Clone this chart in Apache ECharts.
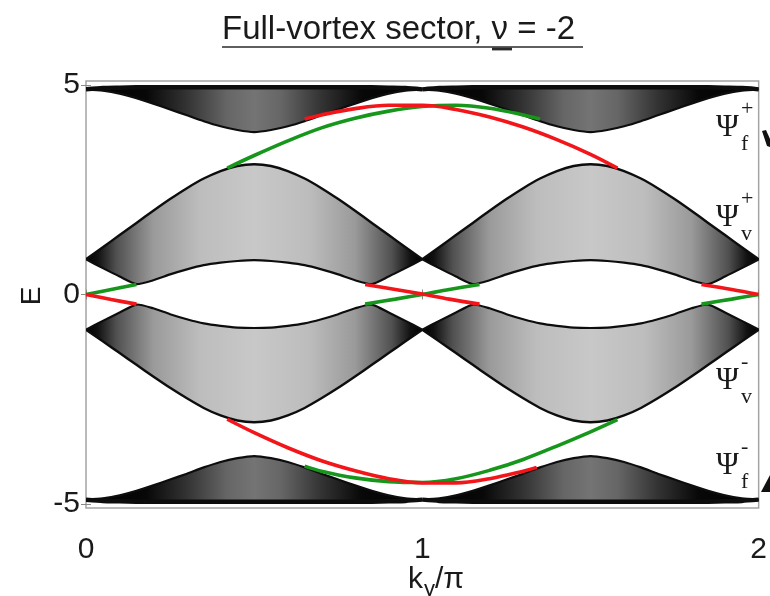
<!DOCTYPE html>
<html>
<head>
<meta charset="utf-8">
<script src="https://cdn.jsdelivr.net/npm/echarts@6/dist/echarts.min.js"></script>
<style>
  html, body { margin: 0; padding: 0; background: #ffffff; }
  #chart { width: 770px; height: 596px; }
</style>
</head>
<body>
<div id="chart"></div>
<script>
// Momentum grid, k_y / pi from 0 to 2 (step 0.05)
const kGrid = [0,0.05,0.1,0.15,0.2,0.25,0.3,0.35,0.4,0.45,0.5,0.55,0.6,0.65,0.7,0.75,0.8,0.85,0.9,0.95,1,
               1.05,1.1,1.15,1.2,1.25,1.3,1.35,1.4,1.45,1.5,1.55,1.6,1.65,1.7,1.75,1.8,1.85,1.9,1.95,2];

// Bulk continua: upper / lower envelopes of each band of states
const fPlusTop  = [4.90,4.93,4.94,4.95,4.95,4.95,4.95,4.95,4.95,4.95,4.95,4.95,4.95,4.95,4.95,4.95,4.95,4.95,4.94,4.93,4.90,
                   4.93,4.94,4.95,4.95,4.95,4.95,4.95,4.95,4.95,4.95,4.95,4.95,4.95,4.95,4.95,4.95,4.95,4.94,4.93,4.90];
const fPlusBot  = [4.90,4.87,4.80,4.69,4.56,4.42,4.28,4.14,4.02,3.93,3.88,3.93,4.02,4.14,4.28,4.42,4.56,4.69,4.80,4.87,4.90,
                   4.87,4.80,4.69,4.56,4.42,4.28,4.14,4.02,3.93,3.88,3.93,4.02,4.14,4.28,4.42,4.56,4.69,4.80,4.87,4.90];
const vPlusTop  = [0.84,1.13,1.42,1.71,2.00,2.28,2.54,2.77,2.95,3.07,3.11,3.07,2.95,2.77,2.54,2.28,2.00,1.71,1.42,1.13,0.84,
                   1.13,1.42,1.71,2.00,2.28,2.54,2.77,2.95,3.07,3.11,3.07,2.95,2.77,2.54,2.28,2.00,1.71,1.42,1.13,0.84];
const vPlusBot  = [0.84,0.63,0.43,0.25,0.34,0.48,0.60,0.70,0.76,0.80,0.82,0.80,0.76,0.70,0.60,0.48,0.34,0.25,0.43,0.63,0.84,
                   0.63,0.43,0.25,0.34,0.48,0.60,0.70,0.76,0.80,0.82,0.80,0.76,0.70,0.60,0.48,0.34,0.25,0.43,0.63,0.84];
const vMinusTop = [-0.84,-0.63,-0.43,-0.24,-0.33,-0.47,-0.59,-0.69,-0.75,-0.79,-0.80,-0.79,-0.75,-0.69,-0.59,-0.47,-0.33,-0.24,-0.43,-0.63,-0.84,
                   -0.63,-0.43,-0.24,-0.33,-0.47,-0.59,-0.69,-0.75,-0.79,-0.80,-0.79,-0.75,-0.69,-0.59,-0.47,-0.33,-0.24,-0.43,-0.63,-0.84];
const vMinusBot = [-0.84,-1.12,-1.40,-1.68,-1.96,-2.23,-2.48,-2.71,-2.89,-3.01,-3.05,-3.01,-2.89,-2.71,-2.48,-2.23,-1.96,-1.68,-1.40,-1.12,-0.84,
                   -1.12,-1.40,-1.68,-1.96,-2.23,-2.48,-2.71,-2.89,-3.01,-3.05,-3.01,-2.89,-2.71,-2.48,-2.23,-1.96,-1.68,-1.40,-1.12,-0.84];
const fMinusTop = [-4.90,-4.87,-4.80,-4.69,-4.56,-4.42,-4.28,-4.13,-4.00,-3.91,-3.86,-3.91,-4.00,-4.13,-4.28,-4.42,-4.56,-4.69,-4.80,-4.87,-4.90,
                   -4.87,-4.80,-4.69,-4.56,-4.42,-4.28,-4.13,-4.00,-3.91,-3.86,-3.91,-4.00,-4.13,-4.28,-4.42,-4.56,-4.69,-4.80,-4.87,-4.90];
const fMinusBot = [-4.90,-4.93,-4.94,-4.95,-4.95,-4.95,-4.95,-4.95,-4.95,-4.95,-4.95,-4.95,-4.95,-4.95,-4.95,-4.95,-4.95,-4.95,-4.94,-4.93,-4.90,
                   -4.93,-4.94,-4.95,-4.95,-4.95,-4.95,-4.95,-4.95,-4.95,-4.95,-4.95,-4.95,-4.95,-4.95,-4.95,-4.95,-4.95,-4.94,-4.93,-4.90];

// Edge states crossing the gaps (k_y/pi, E)
const greenUpK  = [0.42,0.5,0.6,0.7,0.8,0.9,1.0,1.1,1.2,1.3,1.35];
const greenUpE  = [3.02,3.32,3.67,3.98,4.21,4.38,4.49,4.52,4.45,4.29,4.19];
const redUpK    = [0.65,0.7,0.8,0.9,1.0,1.1,1.2,1.3,1.4,1.5,1.58];
const redUpE    = [4.19,4.29,4.44,4.52,4.52,4.42,4.24,4.00,3.70,3.35,3.02];
const redLowK   = [0.42,0.5,0.6,0.7,0.8,0.9,1.0,1.1,1.2,1.3,1.34];
const redLowE   = [-2.98,-3.30,-3.66,-3.97,-4.21,-4.40,-4.50,-4.50,-4.40,-4.22,-4.13];
const greenLowK = [0.65,0.7,0.8,0.9,1.0,1.1,1.2,1.3,1.4,1.5,1.58];
const greenLowE = [-4.10,-4.22,-4.38,-4.47,-4.49,-4.40,-4.20,-3.94,-3.62,-3.28,-2.99];
const greenMidK = [[0,0.075,0.15],[0.83,0.92,1.0,1.08,1.17],[1.83,1.92,2.0]];
const greenMidE = [[0.0,0.12,0.24],[-0.23,-0.11,0.0,0.12,0.24],[-0.23,-0.11,0.0]];
const redMidK   = [[0,0.075,0.15],[0.83,0.92,1.0,1.08,1.17],[1.83,1.92,2.0]];
const redMidE   = [[0.0,-0.12,-0.23],[0.24,0.12,0.01,-0.11,-0.23],[0.24,0.12,0.0]];

// Axis tick values
const xTicks = [0, 1, 2];
const yTicks = [-5, 0, 5];

// ---- styling ----
const RED = '#f2161b';
const GREEN = '#17961c';
const INK = '#1a1a1a';
const SANS = 'Liberation Sans, Arial, sans-serif';
const SERIF = 'Liberation Serif, Times New Roman, serif';

const fStops = [
  {offset: 0, color: '#000'}, {offset: 0.18, color: '#080808'}, {offset: 0.3, color: '#333'},
  {offset: 0.42, color: '#666'}, {offset: 0.5, color: '#747474'}, {offset: 0.58, color: '#666'},
  {offset: 0.7, color: '#333'}, {offset: 0.82, color: '#080808'}, {offset: 1, color: '#000'}
];
const vStops = [
  {offset: 0, color: '#000'}, {offset: 0.035, color: '#111'}, {offset: 0.09, color: '#505050'},
  {offset: 0.2, color: '#9a9a9a'}, {offset: 0.34, color: '#bdbdbd'}, {offset: 0.5, color: '#c8c8c8'},
  {offset: 0.66, color: '#bdbdbd'}, {offset: 0.8, color: '#9a9a9a'}, {offset: 0.91, color: '#505050'},
  {offset: 0.965, color: '#111'}, {offset: 1, color: '#000'}
];

const bandList = [
  {top: fPlusTop,  bot: fPlusBot,  stops: fStops, topW: 4.5, botW: 2.2},
  {top: vPlusTop,  bot: vPlusBot,  stops: vStops, topW: 2.4, botW: 2.2},
  {top: vMinusTop, bot: vMinusBot, stops: vStops, topW: 2.2, botW: 2.4},
  {top: fMinusTop, bot: fMinusBot, stops: fStops, topW: 2.2, botW: 4.5}
];

// one item per band per half-period: [half, band]
const bandItems = [];
for (let b = 0; b < bandList.length; b++) {
  bandItems.push([0, b], [1, b]);
}

function renderBand(params, api) {
  const half = api.value(0);
  const band = bandList[api.value(1)];
  const i0 = half * 20, i1 = i0 + 20;
  const upper = [], lower = [];
  for (let i = i0; i <= i1; i++) {
    upper.push(api.coord([kGrid[i], band.top[i]]));
    lower.push(api.coord([kGrid[i], band.bot[i]]));
  }
  const outline = upper.concat(lower.slice().reverse());
  return {
    type: 'group',
    children: [
      {type: 'polygon', shape: {points: outline},
       style: {fill: new echarts.graphic.LinearGradient(0, 0, 1, 0, band.stops), stroke: null}},
      {type: 'polyline', shape: {points: upper, smooth: 0.2},
       style: {stroke: '#0d0d0d', lineWidth: band.topW, fill: null}},
      {type: 'polyline', shape: {points: lower, smooth: 0.2},
       style: {stroke: '#0d0d0d', lineWidth: band.botW, fill: null}}
    ]
  };
}

function edgeLine(ks, es, color) {
  return {
    type: 'line',
    data: ks.map((k, i) => [k, es[i]]),
    smooth: 0.35,
    showSymbol: false,
    silent: true,
    z: 5,
    lineStyle: {color: color, width: 3.6}
  };
}

const series = [{
  type: 'custom',
  renderItem: renderBand,
  data: bandItems,
  clip: true,
  silent: true,
  z: 2
}];
series.push(edgeLine(greenUpK, greenUpE, GREEN));
series.push(edgeLine(redUpK, redUpE, RED));
series.push(edgeLine(greenLowK, greenLowE, GREEN));
series.push(edgeLine(redLowK, redLowE, RED));
for (let s = 0; s < greenMidK.length; s++) {
  series.push(edgeLine(greenMidK[s], greenMidE[s], GREEN));
  series.push(edgeLine(redMidK[s], redMidE[s], RED));
}

const tickStyle = {inside: true, length: 5, lineStyle: {color: '#8a8a8a', width: 1}};

function psiLabel(cx, cy, sup, sub) {
  return [
    {type: 'text', left: cx - 12, top: cy - 16, style: {text: 'Ψ', font: '31px ' + SERIF, fill: INK}},
    {type: 'text', left: cx + 13, top: cy - 30, style: {text: sup, font: '22px ' + SERIF, fill: INK}},
    {type: 'text', left: cx + 13, top: cy + 5, style: {text: sub, font: '22px ' + SERIF, fill: INK}}
  ];
}

const graphics = [
  // title, with the underline drawn beneath it
  {type: 'text', left: 222, top: 13,
   style: {text: '{a|Full-vortex sector, }{n|ν}{a| = -2}',
           rich: {a: {font: '33px ' + SANS, fill: INK}, n: {font: '33px ' + SANS, fill: INK}}}},
  {type: 'line', shape: {x1: 222, y1: 47, x2: 583, y2: 47}, style: {stroke: '#2a2a2a', lineWidth: 1.6}},
  {type: 'line', shape: {x1: 492, y1: 49, x2: 512, y2: 49}, style: {stroke: '#2a2a2a', lineWidth: 2.8}},
  // axis names
  {type: 'text', x: 32, y: 296, rotation: Math.PI / 2,
   style: {text: 'E', font: '28px ' + SANS, fill: INK, align: 'center', verticalAlign: 'middle'}},
  {type: 'text', left: 408, top: 565, style: {text: 'k', font: '30px ' + SANS, fill: INK}},
  {type: 'text', left: 424, top: 579, style: {text: 'y', font: '22px ' + SANS, fill: INK}},
  {type: 'text', left: 435, top: 565, style: {text: '/π', font: '30px ' + SANS, fill: INK}},
  // clipped marks at the right edge
  {type: 'polygon', shape: {points: [[762, 131], [766, 130], [770, 139], [770, 147], [767, 146]]}, style: {fill: '#111'}},
  {type: 'polygon', shape: {points: [[770, 475], [770, 492], [761, 492]]}, style: {fill: '#111'}}
]
  .concat(psiLabel(728, 128, '+', 'f'))
  .concat(psiLabel(728, 218, '+', 'v'))
  .concat(psiLabel(728, 381, '-', 'v'))
  .concat(psiLabel(728, 466, '-', 'f'));

const chart = echarts.init(document.getElementById('chart'), null, {renderer: 'canvas'});
chart.setOption({
  animation: false,
  backgroundColor: '#ffffff',
  grid: {left: 86, right: 8, top: 81, bottom: 88, show: true, borderColor: '#a4a4a4', borderWidth: 1.5, backgroundColor: 'transparent'},
  xAxis: [
    {type: 'value', min: 0, max: 2, interval: 1, position: 'bottom',
     axisLine: {show: false}, splitLine: {show: false}, axisTick: tickStyle,
     axisLabel: {customValues: xTicks, fontSize: 30, fontFamily: SANS, color: INK, margin: 27}},
    {type: 'value', min: 0, max: 2, interval: 1, position: 'top',
     axisLine: {show: false}, splitLine: {show: false}, axisTick: tickStyle, axisLabel: {show: false}}
  ],
  yAxis: [
    {type: 'value', min: -5.1, max: 5.1, position: 'left',
     axisLine: {show: false}, splitLine: {show: false},
     axisTick: Object.assign({customValues: yTicks}, tickStyle),
     axisLabel: {customValues: yTicks, fontSize: 30, fontFamily: SANS, color: INK, margin: 6}},
    {type: 'value', min: -5.1, max: 5.1, position: 'right',
     axisLine: {show: false}, splitLine: {show: false},
     axisTick: Object.assign({customValues: yTicks}, tickStyle), axisLabel: {show: false}}
  ],
  series: series,
  graphic: graphics
});
</script>
</body>
</html>
